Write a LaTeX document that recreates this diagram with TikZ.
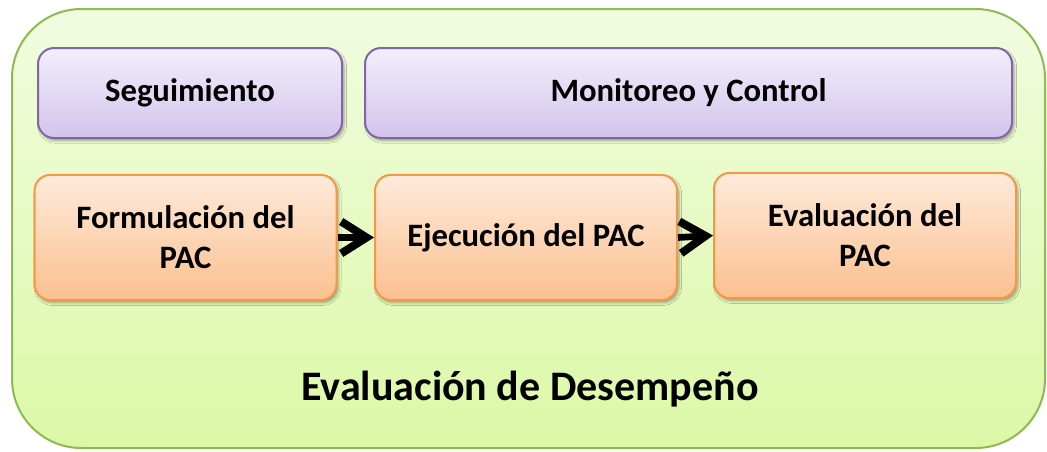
\documentclass[tikz,border=0pt]{standalone}
\usepackage{fontspec}
\setmainfont{Carlito}
\usetikzlibrary{arrows.meta,shadows.blur}
\definecolor{outerB}{HTML}{8CBB52}
\definecolor{outerT}{HTML}{F1FCE0}
\definecolor{outerBot}{HTML}{DCF8A6}
\definecolor{purB}{HTML}{8166A6}
\definecolor{purT}{HTML}{F2EEFB}
\definecolor{purBot}{HTML}{D3C4EC}
\definecolor{orB}{HTML}{F79646}
\definecolor{orT}{HTML}{FEEADA}
\definecolor{orBot}{HTML}{FBC08F}
\tikzset{
  purbox/.style={draw=purB, line width=1.5pt, rounded corners=12pt, top color=purT, bottom color=purBot,
    minimum height=67.5pt, font=\bfseries\fontsize{24.5}{29}\selectfont, text=black,
    blur shadow={shadow xshift=1.5pt, shadow yshift=-2pt, shadow blur steps=5, shadow opacity=35}},
  orbox/.style={draw=orB, line width=1.5pt, rounded corners=12pt, top color=orT, bottom color=orBot,
    minimum width=226.5pt, minimum height=94pt, align=center, font=\bfseries\fontsize{24.5}{30}\selectfont, text=black,
    blur shadow={shadow xshift=1.5pt, shadow yshift=-2pt, shadow blur steps=5, shadow opacity=35}},
  flow/.style={line width=5pt, -{Straight Barb[length=19pt,width=24pt,line width=6pt]}, black}
}
\begin{document}
\begin{tikzpicture}[x=0.75pt,y=-0.75pt]
\useasboundingbox (0,0) rectangle (1047,451);
\node[draw=outerB, line width=1.5pt, rounded corners=52pt, top color=outerT, bottom color=outerBot,
  minimum width=774.75pt, minimum height=329.25pt, inner sep=0pt] (outer) at (528.5,228.5) {};
\node[purbox, minimum width=228pt] (seg) at (190,93) {Seguimiento};
\node[purbox, minimum width=485.25pt] (mon) at (688.5,93) {Monitoreo y Control};
\node[orbox] (form) at (185.5,237.5) {Formulación del\\PAC};
\node[orbox] (ejec) at (526,237.5) {Ejecución del PAC};
\node[orbox] (eval) at (865,235.5) {Evaluación del\\PAC};
\draw[flow] (form.east) -- (ejec.west);
\draw[flow] (ejec.east) -- (eval.west);
\node[font=\bfseries\fontsize{31.5}{36}\selectfont, anchor=base] (title) at (530,400) {Evaluación de Desempeño};
\end{tikzpicture}
\end{document}
